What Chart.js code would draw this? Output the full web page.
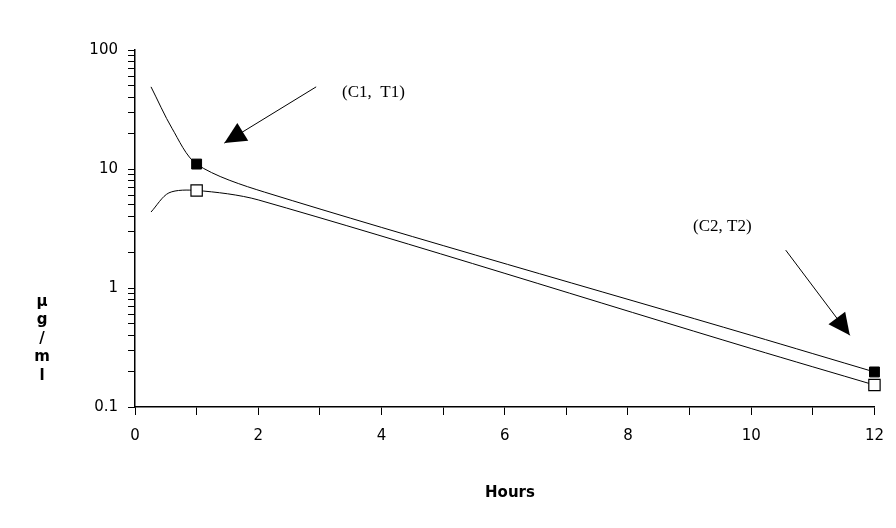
<!DOCTYPE html>
<html><head><meta charset="utf-8">
<script src="https://cdn.jsdelivr.net/npm/chart.js@4/dist/chart.umd.min.js"></script>
<style>html,body{margin:0;background:#fff}</style>
</head><body><canvas id="c" width="896" height="528"></canvas>
<script>
const upperX = [0.26, 0.6, 1, 2.1, 10, 12];
const upperY = [49, 22, 11, 6.4, 0.40, 0.197];
const lowerX = [0.26, 0.55, 1, 2, 10, 12];
const lowerY = [4.35, 6.3, 6.6, 5.5, 0.31, 0.153];
const markerIndex = [2, 5];
const yMajor = [0.1, 1, 10, 100];
const xTicks = [0, 1, 2, 3, 4, 5, 6, 7, 8, 9, 10, 11, 12];

const yTicks = [];
[0.1, 1, 10].forEach(d => { for (let k = 1; k < 10; k++) yTicks.push(+(d * k).toPrecision(2)); });
yTicks.push(100);

function pts(xs, ys) { return xs.map((x, i) => ({ x: x, y: ys[i] })); }

const annot = {
  id: 'annot',
  afterDraw(chart) {
    const ctx = chart.ctx, xs = chart.scales.x, ys = chart.scales.y;
    ctx.save();
    ctx.fillStyle = '#000'; ctx.strokeStyle = '#000'; ctx.lineWidth = 1;
    function arrow(x1, y1, x2, y2) {
      const a = xs.getPixelForValue(x1), b = ys.getPixelForValue(y1);
      const c = xs.getPixelForValue(x2), d = ys.getPixelForValue(y2);
      const ang = Math.atan2(d - b, c - a);
      ctx.beginPath(); ctx.moveTo(a, b); ctx.lineTo(c, d); ctx.stroke();
      ctx.beginPath();
      ctx.moveTo(c, d);
      ctx.lineTo(c - 24 * Math.cos(ang - 0.45), d - 24 * Math.sin(ang - 0.45));
      ctx.lineTo(c - 24 * Math.cos(ang + 0.45), d - 24 * Math.sin(ang + 0.45));
      ctx.closePath(); ctx.fill();
    }
    arrow(2.94, 49, 1.45, 16.5);
    arrow(10.56, 2.08, 11.6, 0.40);
    ctx.font = '17px "Liberation Serif", serif';
    ctx.textBaseline = 'middle';
    ctx.fillText('(C1,  T1)', 342, 93);
    ctx.fillText('(C2, T2)', 693, 227);
    ctx.font = 'bold 15px "DejaVu Sans", sans-serif';
    ctx.textAlign = 'center';
    ctx.fillText('Hours', 510, 493);
    ['μ', 'g', '/', 'm', 'l'].forEach((t, i) => ctx.fillText(t, 42, 302 + i * 18.5));
    ctx.restore();
  }
};

new Chart(document.getElementById('c'), {
  type: 'scatter',
  data: {
    datasets: [{
      data: pts(upperX, upperY), showLine: true, tension: 0.3,
      borderColor: '#000', borderWidth: 1,
      pointStyle: 'rect', backgroundColor: '#000', pointBorderColor: '#000',
      pointRadius: upperX.map((_, i) => markerIndex.includes(i) ? 7 : 0)
    }, {
      data: pts(lowerX, lowerY), showLine: true, tension: 0.3,
      borderColor: '#000', borderWidth: 1,
      pointStyle: 'rect', backgroundColor: '#fff', pointBorderColor: '#000', pointBorderWidth: 1.2,
      pointRadius: lowerX.map((_, i) => markerIndex.includes(i) ? 8 : 0)
    }]
  },
  options: {
    responsive: false, animation: false, clip: false,
    layout: { padding: { top: 50, right: 13, left: 0, bottom: 0 } },
    plugins: { legend: { display: false }, tooltip: { enabled: false } },
    scales: {
      x: {
        type: 'linear', min: 0, max: 12,
        afterBuildTicks: s => { s.ticks = xTicks.map(v => ({ value: v })); },
        afterFit: s => { s.height = 121; },
        border: { color: '#000', width: 1.5 },
        grid: { drawOnChartArea: false, color: '#000', tickLength: 8 },
        ticks: { color: '#000', autoSkip: false, maxRotation: 0, padding: 12,
          font: { family: '"DejaVu Sans", sans-serif', size: 15 },
          callback: v => v % 2 === 0 ? v : '' }
      },
      y: {
        type: 'logarithmic', min: 0.1, max: 100,
        afterBuildTicks: s => { s.ticks = yTicks.map(v => ({ value: v })); },
        afterFit: s => { s.width = 135; },
        border: { color: '#000', width: 1.5 },
        grid: { drawOnChartArea: false, color: '#000', tickLength: 7 },
        ticks: { color: '#000', autoSkip: false, padding: 10,
          font: { family: '"DejaVu Sans", sans-serif', size: 15 },
          callback: v => yMajor.includes(v) ? String(v) : '' }
      }
    }
  },
  plugins: [annot]
});
</script></body></html>
